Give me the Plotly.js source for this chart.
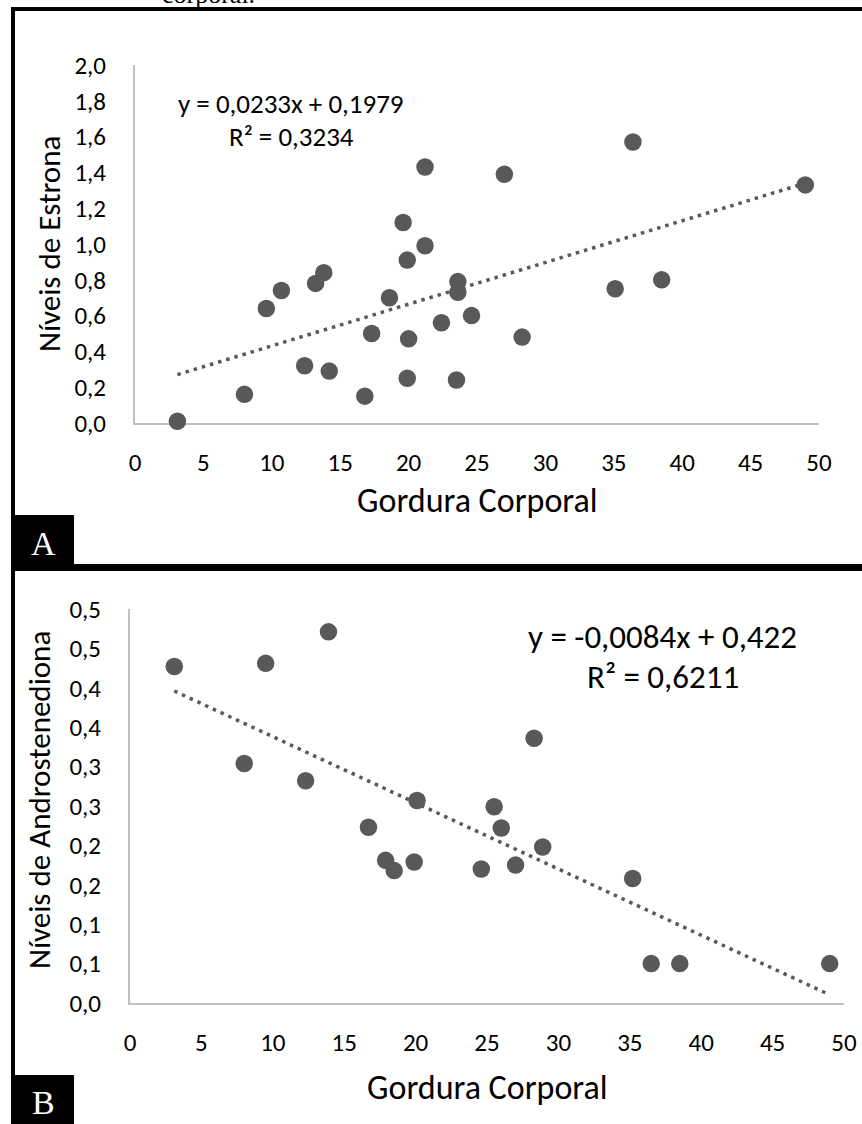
<!DOCTYPE html>
<html>
<head>
<meta charset="utf-8">
<script src="https://cdn.plot.ly/plotly-3.0.1.min.js"></script>
<style>
  html, body { margin: 0; padding: 0; background: #ffffff; }
  #chart { width: 862px; height: 1124px; }
</style>
</head>
<body>
<div id="chart"></div>
<script>
// Panel A: body fat vs. estrone
const gorduraA = [3.1, 8.0, 9.6, 10.7, 12.4, 13.2, 13.8, 14.2, 16.8, 17.3, 18.6, 19.6, 19.9, 19.9,
                  20.0, 21.2, 21.2, 22.4, 23.5, 23.6, 23.6, 24.6, 27.0, 28.3, 35.1, 36.4, 38.5, 49.0];
const estrona  = [0.01, 0.16, 0.64, 0.74, 0.32, 0.78, 0.84, 0.29, 0.15, 0.50, 0.70, 1.12, 0.91, 0.25,
                  0.47, 1.43, 0.99, 0.56, 0.24, 0.79, 0.73, 0.60, 1.39, 0.48, 0.75, 1.57, 0.80, 1.33];

// Panel B: body fat vs. androstenedione
const gorduraB = [3.1, 8.0, 9.5, 12.3, 13.9, 16.7, 17.9, 18.5, 19.9, 20.1, 24.6, 25.5, 26.0, 27.0,
                  28.3, 28.9, 35.2, 36.5, 38.5, 49.0];
const androstenediona = [0.427, 0.304, 0.431, 0.282, 0.471, 0.223, 0.181, 0.168, 0.179, 0.257, 0.170,
                         0.249, 0.222, 0.175, 0.336, 0.198, 0.158, 0.050, 0.050, 0.050];

// Linear fits printed on each panel
const slopes     = [0.0233, -0.0084];
const intercepts = [0.1979, 0.422];
const r2Values   = ['0,3234', '0,6211'];
const slopeText     = ['0,0233', '-0,0084'];
const interceptText = ['0,1979', '0,422'];

// Axis ticks
const xTicks   = [0, 5, 10, 15, 20, 25, 30, 35, 40, 45, 50];
const yTicksA  = [0, 0.2, 0.4, 0.6, 0.8, 1.0, 1.2, 1.4, 1.6, 1.8, 2.0];
const yLabelsA = ['0,0', '0,2', '0,4', '0,6', '0,8', '1,0', '1,2', '1,4', '1,6', '1,8', '2,0'];
const yTicksB  = [0, 0.05, 0.1, 0.15, 0.2, 0.25, 0.3, 0.35, 0.4, 0.45, 0.5];
const yLabelsB = ['0,0', '0,1', '0,1', '0,2', '0,2', '0,3', '0,3', '0,4', '0,4', '0,5', '0,5'];

const W = 862, H = 1124;
const fx = p => p / W;
const fy = p => 1 - p / H;

const FONT = 'Calibri, Carlito, Lato, sans-serif';
const SERIF = '"Liberation Serif", "DejaVu Serif", serif';
const MARK = '#595959';

function fitLine(xs, i) {
  const x0 = Math.min(...xs), x1 = Math.max(...xs);
  return { x: [x0, x1], y: [slopes[i] * x0 + intercepts[i], slopes[i] * x1 + intercepts[i]] };
}
const fitA = fitLine(gorduraA, 0);
const fitB = fitLine(gorduraB, 1);

const traces = [
  { x: gorduraA, y: estrona, xaxis: 'x', yaxis: 'y', type: 'scatter', mode: 'markers',
    marker: { color: MARK, size: 17.5 }, cliponaxis: false, hoverinfo: 'skip' },
  { x: fitA.x, y: fitA.y, xaxis: 'x', yaxis: 'y', type: 'scatter', mode: 'lines',
    line: { color: MARK, width: 3.5, dash: '3.5px,5px' }, hoverinfo: 'skip' },
  { x: gorduraB, y: androstenediona, xaxis: 'x2', yaxis: 'y2', type: 'scatter', mode: 'markers',
    marker: { color: MARK, size: 17.5 }, cliponaxis: false, hoverinfo: 'skip' },
  { x: fitB.x, y: fitB.y, xaxis: 'x2', yaxis: 'y2', type: 'scatter', mode: 'lines',
    line: { color: MARK, width: 3.5, dash: '3.5px,5px' }, hoverinfo: 'skip' }
];

const tickFont = { family: FONT, size: 25, color: '#000000' };
function xAxis(domain, anchor) {
  return { domain: domain, anchor: anchor, range: [0, 50], tickvals: xTicks, ticktext: xTicks.map(String),
           showline: true, linecolor: '#c0c0c0', linewidth: 2, showgrid: false, zeroline: false,
           ticks: '', tickfont: tickFont, ticklabelstandoff: 16, layer: 'below traces', fixedrange: true };
}
function yAxis(domain, anchor, range, vals, labels) {
  return { domain: domain, anchor: anchor, range: range, tickvals: vals, ticktext: labels,
           showline: true, linecolor: '#c0c0c0', linewidth: 2, showgrid: false, zeroline: false,
           ticks: '', tickfont: tickFont, ticklabelstandoff: 22, layer: 'below traces', fixedrange: true };
}

const yTitleFont = { family: FONT, size: 31, color: '#000000' };
const xTitleFont = { family: FONT, size: 34, color: '#000000' };
function note(text, x, y, font, extra) {
  return Object.assign({ text: text, x: fx(x), y: fy(y), xref: 'paper', yref: 'paper',
                         showarrow: false, xanchor: 'center', yanchor: 'middle', font: font }, extra || {});
}

const eqFontA = { family: FONT, size: 27, color: '#000000' };
const eqFontB = { family: FONT, size: 33, color: '#000000' };
const annotations = [
  note('Níveis de Estrona', 49, 244, yTitleFont, { textangle: -90 }),
  note('Gordura Corporal', 477, 501, xTitleFont),
  note('y = ' + slopeText[0] + 'x + ' + interceptText[0], 291, 103, eqFontA),
  note('R² = ' + r2Values[0], 291, 137, eqFontA),
  note('Níveis de Androstenediona', 39, 800, yTitleFont, { textangle: -90 }),
  note('Gordura Corporal', 487, 1087, xTitleFont),
  note('y = ' + slopeText[1] + 'x + ' + interceptText[1], 662, 637, eqFontB),
  note('R² = ' + r2Values[1], 663, 677, eqFontB),
  note('A', 43, 543, { family: SERIF, size: 34, color: '#ffffff' }),
  note('B', 43, 1102, { family: SERIF, size: 34, color: '#ffffff' }),
  note('corporal.', 160, 11, { family: SERIF, size: 26, color: '#000000' }, { xanchor: 'left', yanchor: 'bottom' })
];

function rect(x0, y0, x1, y1) {
  return { type: 'rect', xref: 'paper', yref: 'paper', x0: fx(x0), x1: fx(x1), y0: fy(y0), y1: fy(y1),
           fillcolor: '#000000', line: { width: 0 }, layer: 'above' };
}
const shapes = [
  rect(11, 7, 15, 571),      // panel A left edge
  rect(11, 7, 862, 11),      // panel A top edge
  rect(11, 564, 862, 571),   // divider between panels
  rect(11, 571, 15, 1124),   // panel B left edge
  rect(11, 515, 74, 571),    // label box A
  rect(11, 1075, 74, 1124)   // label box B
];

const layout = {
  width: W, height: H,
  margin: { l: 0, r: 0, t: 0, b: 0 },
  paper_bgcolor: '#ffffff', plot_bgcolor: 'rgba(0,0,0,0)',
  showlegend: false,
  xaxis:  xAxis([fx(135), fx(819)], 'y'),
  yaxis:  yAxis([fy(423), fy(65)], 'x', [0, 2], yTicksA, yLabelsA),
  xaxis2: xAxis([fx(130), fx(844)], 'y2'),
  yaxis2: yAxis([fy(1003), fy(609)], 'x2', [0, 0.5], yTicksB, yLabelsB),
  annotations: annotations,
  shapes: shapes
};

Plotly.newPlot('chart', traces, layout, { staticPlot: true, displayModeBar: false });
</script>
</body>
</html>
